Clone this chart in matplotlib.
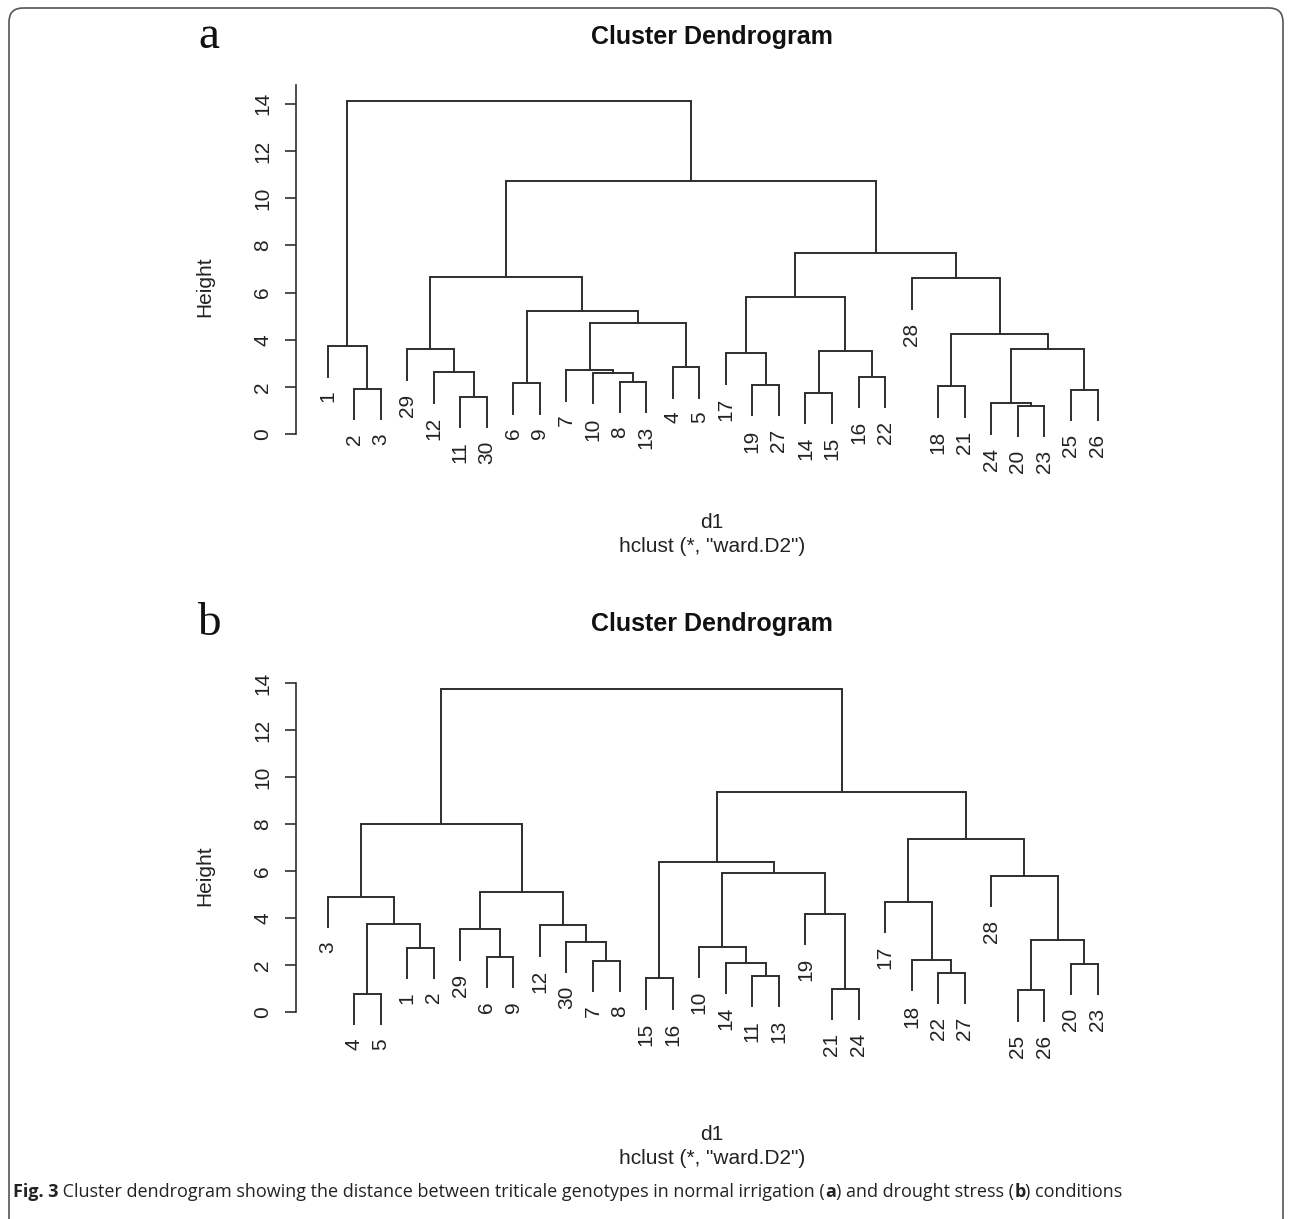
import matplotlib
matplotlib.use('Agg')
import matplotlib.pyplot as plt
from matplotlib.patches import FancyBboxPatch

# leaf order as drawn, and merges (left, right, height), R style:
# negative = leaf label, positive = row number of an earlier merge
order_a = [1, 2, 3, 29, 12, 11, 30, 6, 9, 7, 10, 8, 13, 4, 5,
           17, 19, 27, 14, 15, 16, 22, 28, 18, 21, 24, 20, 23, 25, 26]
merges_a = [(-20, -23, 1.21), (-24, 1, 1.31), (-11, -30, 1.60), (-14, -15, 1.76),
            (-25, -26, 1.88), (-2, -3, 1.93), (-18, -21, 2.03), (-19, -27, 2.09),
            (-6, -9, 2.16), (-8, -13, 2.22), (-16, -22, 2.43), (-10, 10, 2.60),
            (-12, 3, 2.62), (-7, 12, 2.71), (-4, -5, 2.84), (-17, 8, 3.44),
            (4, 11, 3.54), (2, 5, 3.60), (-29, 13, 3.60), (-1, 6, 3.73),
            (7, 18, 4.26), (14, 15, 4.70), (9, 22, 5.21), (16, 17, 5.83),
            (-28, 21, 6.61), (19, 23, 6.65), (24, 25, 7.68), (26, 27, 10.71),
            (20, 28, 14.10)]

order_b = [3, 4, 5, 1, 2, 29, 6, 9, 12, 30, 7, 8, 15, 16, 10,
           14, 11, 13, 19, 21, 24, 17, 18, 22, 27, 28, 25, 26, 20, 23]
merges_b = [(-4, -5, 0.78), (-25, -26, 0.92), (-21, -24, 0.98), (-15, -16, 1.43),
            (-11, -13, 1.55), (-22, -27, 1.66), (-20, -23, 2.06), (-14, 5, 2.10),
            (-7, -8, 2.17), (-18, 6, 2.21), (-6, -9, 2.34), (-1, -2, 2.74),
            (-10, 8, 2.78), (-30, 9, 2.99), (2, 7, 3.06), (-29, 11, 3.52),
            (-12, 14, 3.69), (1, 12, 3.74), (-19, 3, 4.18), (-17, 10, 4.69),
            (-3, 18, 4.91), (16, 17, 5.09), (-28, 15, 5.79), (13, 19, 5.93),
            (4, 24, 6.37), (20, 23, 7.36), (21, 22, 7.99), (25, 26, 9.36),
            (27, 28, 13.73)]

height_ticks = [0, 2, 4, 6, 8, 10, 12, 14]

W, H = 1292, 1219
LINE = '#2e2e2e'
plt.rcParams['font.family'] = ['Liberation Sans', 'DejaVu Sans']


def px_axes(fig, left, top, right, bottom):
    return fig.add_axes([left / W, 1 - bottom / H, (right - left) / W, (bottom - top) / H])


def draw_dendrogram(ax, order, merges):
    heights = [m[2] for m in merges]
    hang = 0.1 * (max(heights) - min(heights))
    xpos = {lab: i + 1 for i, lab in enumerate(order)}
    node_x = []
    for left, right, h in merges:
        xs, ys = [], []
        for c in (left, right):
            if c < 0:
                x, y = xpos[-c], h - hang
                ax.annotate(str(-c), (x, y), xytext=(0, -10), textcoords='offset points',
                            rotation=90, ha='center', va='top', fontsize=15, color='#222222')
            else:
                x, y = node_x[c - 1], merges[c - 1][2]
            xs.append(x)
            ys.append(y)
        ax.plot([xs[0], xs[0], xs[1], xs[1]], [ys[0], h, h, ys[1]],
                color=LINE, lw=1.4, solid_joinstyle='miter')
        node_x.append((xs[0] + xs[1]) / 2)


fig = plt.figure(figsize=(W / 100, H / 100), dpi=100)

# background layer in pixel coordinates: frame and loose texts
bg = fig.add_axes([0, 0, 1, 1])
bg.set_xlim(0, W)
bg.set_ylim(H, 0)
bg.axis('off')
bg.add_patch(FancyBboxPatch((9, 8), W - 18, H + 20, boxstyle='round,pad=0,rounding_size=14',
                            fc='none', ec='#555555', lw=1.2))

# x mapping: leaf 1 at px 327.5, leaf 30 at px 1097.5
step = (1097.5 - 327.5) / 29
x_left, x_right = 296, 1130
xlim = (1 - (327.5 - x_left) / step, 30 + (x_right - 1097.5) / step)

panels = [
    ('a', order_a, merges_a, 434.3, 23.61, 14.8, 0, 6.24),
    ('b', order_b, merges_b, 1012.0, 23.5, 14.0, 587, 5.8),
]
for tag, order, merges, y0, unit, spine_top, dy, ylab_y in panels:
    ax = px_axes(fig, x_left, y0 - 15.5 * unit, x_right, y0 + 3 * unit)
    ax.set_xlim(*xlim)
    ax.set_ylim(-3, 15.5)
    ax.patch.set_visible(False)
    draw_dendrogram(ax, order, merges)
    for s in ('top', 'right', 'bottom'):
        ax.spines[s].set_visible(False)
    ax.spines['left'].set_bounds(0, spine_top)
    ax.spines['left'].set_color(LINE)
    ax.spines['left'].set_linewidth(1.2)
    ax.set_xticks([])
    ax.set_yticks(height_ticks)
    ax.tick_params(axis='y', direction='out', length=8, width=1.2, color=LINE,
                   pad=9, labelsize=15, labelrotation=90, labelcolor='#222222')
    for lab in ax.get_yticklabels():
        lab.set_va('center')
    ax.text(-0.11, ylab_y, 'Height', transform=ax.get_yaxis_transform(),
            rotation=90, ha='center', va='center', fontsize=15, color='#222222')

    sub_dy = 25 if tag == 'b' else 0
    bg.text(209, 37 + dy, tag, fontsize=34, family='Liberation Serif',
            ha='center', va='center', color='#111111')
    bg.text(712, 37 + dy, 'Cluster Dendrogram', fontsize=18, fontweight='bold',
            ha='center', va='center', color='#111111')
    bg.text(712, 523 + dy + sub_dy, 'd1', fontsize=15,
            ha='center', va='center', color='#222222')
    bg.text(712, 546 + dy + sub_dy, 'hclust (*, "ward.D2")',
            fontsize=15, ha='center', va='center', color='#222222')

# caption with bold parts, pieces chained one after another
pieces = [('Fig. 3', 'bold'),
          (' Cluster dendrogram showing the distance between triticale genotypes '
           'in normal irrigation (', 'normal'),
          ('a', 'bold'), (') and drought stress (', 'normal'),
          ('b', 'bold'), (') conditions', 'normal')]
prev = None
for txt, weight in pieces:
    kw = dict(fontsize=13, family='Open Sans', fontweight=weight,
              color='#222222', ha='left', va='bottom')
    if prev is None:
        prev = bg.text(13, 1201, txt, **kw)
    else:
        prev = bg.annotate(txt, xy=(1, 0), xycoords=prev, **kw)

fig.savefig('out.png', dpi=100)
